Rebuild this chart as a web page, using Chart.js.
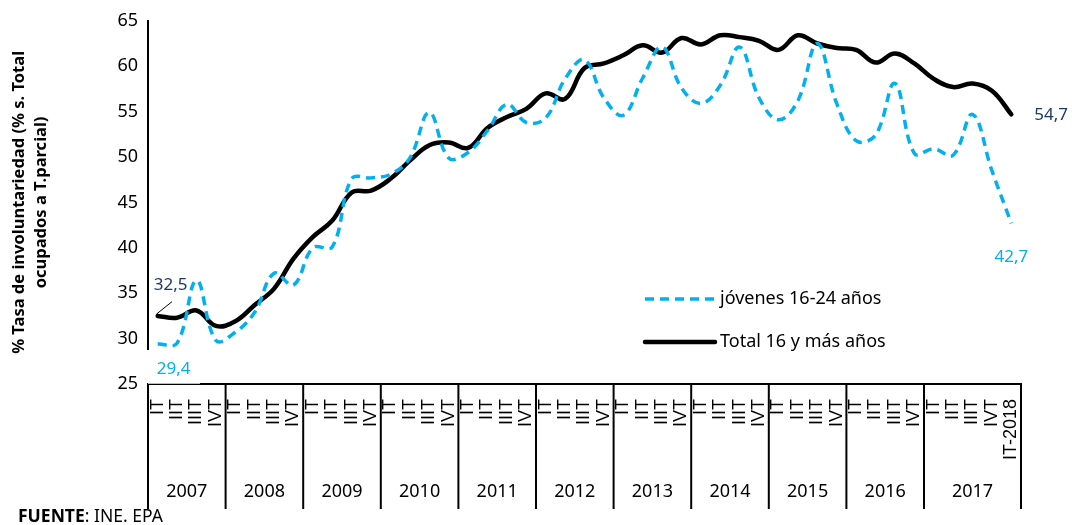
<!DOCTYPE html>
<html>
<head>
<meta charset="utf-8">
<script src="https://cdn.jsdelivr.net/npm/chart.js@4.4.1/dist/chart.umd.min.js"></script>
<style>
  body { margin: 0; background: #fff; }
  #wrap { position: relative; width: 1072px; height: 525px; }
  #fuente { position: absolute; left: 18px; top: 505px; font: 17.5px/20px "Noto Sans", sans-serif; color: #000; white-space: nowrap; }
</style>
</head>
<body>
<div id="wrap">
  <canvas id="chart" width="1072" height="525"></canvas>
  <div id="fuente"><b>FUENTE</b>: INE. EPA</div>
</div>
<script>
// trimestres IT-2007 ... IT-2018
const quarters = ["IT", "IIT", "IIIT", "IVT"];
const years = ["2007", "2008", "2009", "2010", "2011", "2012", "2013", "2014", "2015", "2016", "2017"];
const quarterLabels = [];
years.forEach(() => quarters.forEach(q => quarterLabels.push(q)));
quarterLabels.push("IT-2018");

const jovenes = [29.4, 29.5, 36.4, 29.8, 30.7, 32.9, 37.2, 35.9, 40.0, 40.1, 47.6, 47.7, 48.1, 49.9, 54.9,
    49.9, 50.5, 52.9, 55.8, 53.8, 54.3, 58.6, 60.7, 56.5, 54.6, 58.7, 62.1, 57.6, 55.9, 57.9, 62.1,
    56.5, 54.1, 56.2, 62.5, 55.9, 51.8, 52.4, 58.1, 50.4, 50.9, 50.2, 54.7, 48.5, 42.7];
const total = [32.5, 32.3, 33.1, 31.4, 31.9, 33.7, 35.5, 38.8, 41.2, 43.0, 46.1, 46.3, 47.6, 49.6, 51.3,
    51.6, 51.0, 53.2, 54.4, 55.3, 57.0, 56.4, 59.8, 60.3, 61.2, 62.3, 61.5, 63.1, 62.4, 63.4, 63.2,
    62.8, 61.8, 63.4, 62.5, 62.0, 61.8, 60.4, 61.4, 60.3, 58.6, 57.7, 58.1, 57.3, 54.7];

const seriesNames = ["jóvenes 16-24 años", "Total 16 y más años"];
const yTitle = ["% Tasa de involuntariedad (% s. Total", "ocupados a T.parcial)"];

const FONT = "'Noto Sans', sans-serif";
const BLUE = "#00B0F0";
const NAVY = "#1F3864";

Chart.defaults.font.family = FONT;
Chart.defaults.color = "#000";

// fila de años debajo de los trimestres
const yearRow = {
    id: "yearRow",
    afterDraw(chart) {
        const ctx = chart.ctx;
        const x = chart.scales.x;
        const half = (x.getPixelForValue(1) - x.getPixelForValue(0)) / 2;
        const top = chart.chartArea.bottom;
        const bottom = 509;
        ctx.save();
        ctx.strokeStyle = "#000";
        ctx.lineWidth = 2;
        ctx.fillStyle = "#000";
        ctx.font = "18px " + FONT;
        ctx.textAlign = "center";
        ctx.textBaseline = "middle";
        years.forEach((yr, k) => {
            const start = k * 4;
            const end = k === years.length - 1 ? quarterLabels.length - 1 : start + 3;
            const x0 = x.getPixelForValue(start) - half;
            const x1 = x.getPixelForValue(end) + half;
            ctx.beginPath();
            ctx.moveTo(x0, top);
            ctx.lineTo(x0, bottom);
            if (k === years.length - 1) {
                ctx.moveTo(x1, top);
                ctx.lineTo(x1, bottom);
            }
            ctx.stroke();
            ctx.fillText(yr, (x0 + x1) / 2, 492);
        });
        ctx.restore();
    }
};

// leyenda dentro del gráfico y etiquetas de los extremos
const extras = {
    id: "extras",
    afterDatasetsDraw(chart) {
        const ctx = chart.ctx;
        ctx.save();
        // caja blanca de la etiqueta 29,4
        ctx.fillStyle = "#fff";
        ctx.fillRect(141, 350, 58, 33);
        ctx.strokeStyle = "#bbb";
        ctx.lineWidth = 1;
        ctx.beginPath();
        ctx.moveTo(148, 383.5);
        ctx.lineTo(200, 383.5);
        ctx.stroke();

        chart.data.datasets.forEach((ds, i) => {
            const ly = 299 + i * 43;
            ctx.strokeStyle = ds.borderColor;
            ctx.lineWidth = ds.borderWidth;
            ctx.setLineDash(ds.borderDash || []);
            ctx.lineCap = ds.borderCapStyle || "butt";
            ctx.beginPath();
            ctx.moveTo(645, ly);
            ctx.lineTo(715, ly);
            ctx.stroke();
            ctx.setLineDash([]);
            ctx.fillStyle = "#000";
            ctx.font = "18px " + FONT;
            ctx.textAlign = "left";
            ctx.textBaseline = "middle";
            ctx.fillText(ds.label, 720, ly);
        });

        const pj = chart.getDatasetMeta(0).data;
        const pt = chart.getDatasetMeta(1).data;
        const last = pj.length - 1;
        ctx.font = "17px " + FONT;
        ctx.textBaseline = "middle";

        ctx.fillStyle = NAVY;
        ctx.textAlign = "center";
        ctx.fillText("32,5", pt[0].x + 13, pt[0].y - 31);
        ctx.strokeStyle = "#000";
        ctx.lineWidth = 1;
        ctx.beginPath();
        ctx.moveTo(pt[0].x - 1, pt[0].y - 2);
        ctx.lineTo(pt[0].x + 14, pt[0].y - 14);
        ctx.stroke();

        ctx.fillStyle = BLUE;
        ctx.fillText("29,4", pj[0].x + 16, pj[0].y + 25);
        ctx.fillText("42,7", pj[last].x, pj[last].y + 34);

        ctx.fillStyle = NAVY;
        ctx.textAlign = "left";
        ctx.fillText("54,7", pt[last].x + 23, pt[last].y + 1);
        ctx.restore();
    }
};

new Chart(document.getElementById("chart").getContext("2d"), {
    type: "line",
    data: {
        labels: quarterLabels,
        datasets: [{
            label: seriesNames[0],
            data: jovenes,
            borderColor: BLUE,
            borderWidth: 3.5,
            borderDash: [9, 6],
            tension: 0.4,
            pointRadius: 0,
            fill: false
        }, {
            label: seriesNames[1],
            data: total,
            borderColor: "#000",
            borderWidth: 4.5,
            borderCapStyle: "round",
            tension: 0.4,
            pointRadius: 0,
            fill: false
        }]
    },
    options: {
        responsive: false,
        animation: false,
        devicePixelRatio: 1,
        layout: { padding: { left: 0, right: 51, top: 20, bottom: 0 } },
        plugins: {
            legend: { display: false },
            tooltip: { enabled: false }
        },
        scales: {
            x: {
                offset: true,
                grid: { display: false, drawTicks: false, offset: true },
                border: { display: true, color: "#000", width: 2 },
                ticks: {
                    autoSkip: false,
                    maxRotation: 90,
                    minRotation: 90,
                    padding: 15,
                    color: "#000",
                    font: { family: "'Liberation Sans', Arial, sans-serif", size: 18 }
                },
                afterFit(scale) { scale.height = 141; }
            },
            y: {
                min: 25,
                max: 65,
                grid: { display: false, drawTicks: false },
                border: { display: true, color: "#000", width: 2 },
                ticks: {
                    stepSize: 5,
                    padding: 10,
                    color: "#000",
                    font: { family: FONT, size: 18 }
                },
                title: {
                    display: true,
                    text: yTitle,
                    color: "#000",
                    font: { family: FONT, size: 16.5, weight: "bold", lineHeight: 1.35 },
                    padding: { top: 8, bottom: 0 }
                },
                afterFit(scale) { scale.width = 148; }
            }
        }
    },
    plugins: [yearRow, extras]
});
</script>
</body>
</html>
